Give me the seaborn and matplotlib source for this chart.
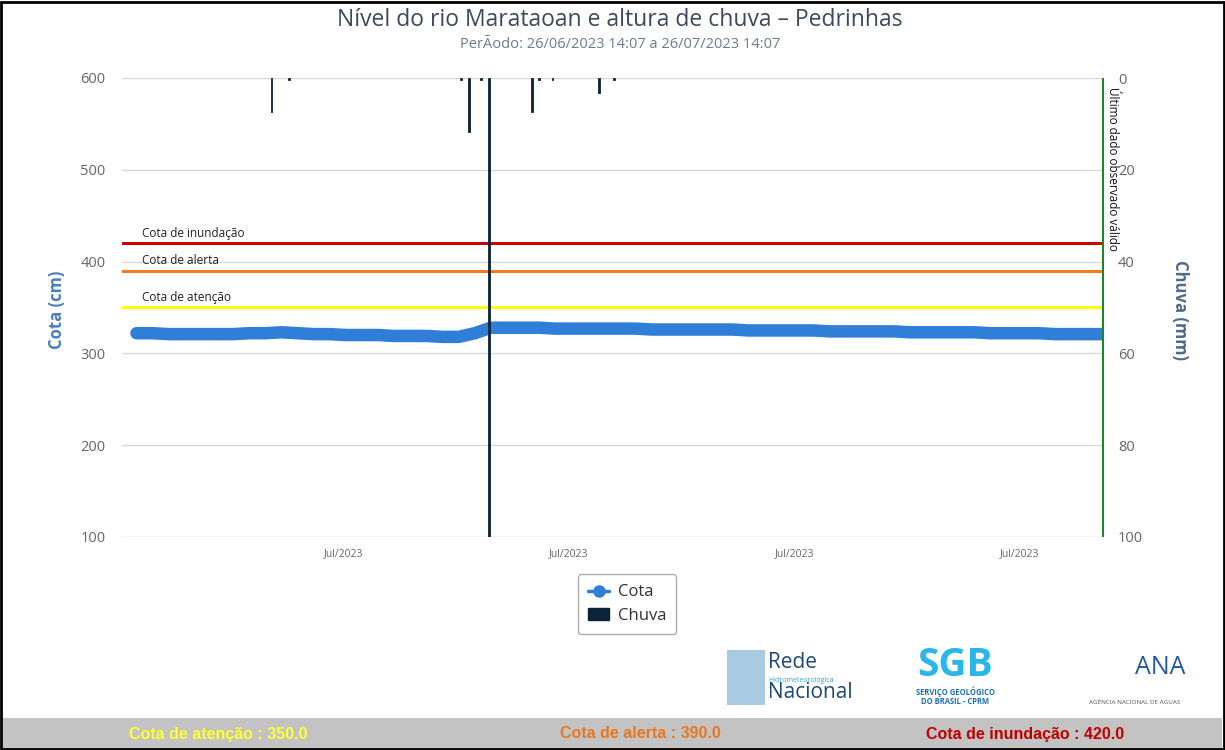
import matplotlib
matplotlib.use("Agg")
import matplotlib.pyplot as plt
import matplotlib.dates as mdates
from matplotlib.patches import Rectangle
from matplotlib.lines import Line2D
from matplotlib.patches import Patch
import seaborn as sns
import pandas as pd
import numpy as np

# ---------------- data ----------------
cota_start = "2023-06-26 14:07"
cota_step_hours = 12
cota_values = [322, 322, 321, 321, 321, 321, 321, 322, 322, 323,
               322, 321, 321, 320, 320, 320, 319, 319, 319, 318,
               318, 322, 328, 328, 328, 328, 327, 327, 327, 327,
               327, 327, 326, 326, 326, 326, 326, 326, 325, 325,
               325, 325, 325, 324, 324, 324, 324, 324, 323, 323,
               323, 323, 323, 322, 322, 322, 322, 321, 321, 321, 321]

chuva_times = ["2023-06-30 18:40", "2023-07-01 08:00", "2023-07-06 16:00",
               "2023-07-06 21:40", "2023-07-07 07:00", "2023-07-07 12:45",
               "2023-07-08 21:00", "2023-07-09 02:00", "2023-07-09 12:00",
               "2023-07-10 22:30", "2023-07-11 10:00"]
chuva_values = [7.4, 0.4, 0.4, 11.8, 0.4, 120.0, 7.4, 0.4, 0.4, 3.3, 0.4]

thresholds = {"Cota de inundação": 420, "Cota de alerta": 390, "Cota de atenção": 350}
threshold_colors = {"Cota de inundação": "#cc0000", "Cota de alerta": "#f47c20", "Cota de atenção": "#ffff00"}
last_valid = "2023-07-26 14:07"

left_ticks = [100, 200, 300, 400, 500, 600]
right_ticks = [0, 20, 40, 60, 80, 100]

# ---------------- figure ----------------
sns.set_theme(style="white")
plt.rcParams['font.family'] = ['Open Sans', 'DejaVu Sans']

W, H = 1225, 750
fig = plt.figure(figsize=(W / 100, H / 100), dpi=100)
ax = fig.add_axes([122 / W, 1 - 537 / H, (1104 - 122) / W, (537 - 78) / H])

times = pd.date_range(cota_start, periods=len(cota_values), freq=f"{cota_step_hours}h")
df = pd.DataFrame({"Data": times, "Cota": cota_values})

ax.set_ylim(100, 600)
ax.set_xlim(pd.Timestamp("2023-06-26 03:20"), pd.Timestamp("2023-07-26 14:50"))

# grid lines
for t in left_ticks:
    ax.axhline(t, color="#d8d8d8", lw=1.0, zorder=0)

# threshold lines
for name, val in thresholds.items():
    ax.axhline(val, color=threshold_colors[name], lw=2.2, zorder=2)
    ax.text(0.02, val + 4, name, transform=ax.get_yaxis_transform(),
            fontsize=8.5, color="#222222", va="bottom", ha="left", zorder=3)

sns.lineplot(data=df, x="Data", y="Cota", ax=ax, color="#2f7ed8", lw=9,
             solid_capstyle="round", zorder=4, legend=False)

# secondary axis for rain
ax2 = ax.twinx()
ax2.set_ylim(100, 0)
ax2.bar(pd.to_datetime(chuva_times), chuva_values, width=0.055, color="#0d233a",
        edgecolor="#0d233a", linewidth=0.6, zorder=5, align="center")
ax2.set_xlim(ax.get_xlim())

# last valid data line
ax2.axvline(pd.Timestamp(last_valid), color="#1a8a1a", lw=2.2, zorder=6)
ax2.text(pd.Timestamp(last_valid) + pd.Timedelta(hours=2.5), 2, "Último dado observado válido",
         rotation=270, fontsize=8.5, color="#111111", va="top", ha="left", zorder=7)

# ticks & labels
ax.set_yticks(left_ticks)
ax2.set_yticks(right_ticks)
ax.xaxis.set_major_locator(mdates.WeekdayLocator(byweekday=mdates.MO))
ax.xaxis.set_major_formatter(mdates.DateFormatter("Jul/%Y"))
ax.tick_params(axis="x", labelsize=7.5, colors="#666666", length=0, pad=8)
ax.tick_params(axis="y", labelsize=10.5, colors="#666666", length=0, pad=12)
ax2.tick_params(axis="y", labelsize=10.5, colors="#666666", length=0, pad=10)
ax.set_xlabel("")
ax.set_ylabel("")
for s in ax.spines.values():
    s.set_visible(False)
for s in ax2.spines.values():
    s.set_visible(False)

fig.text(57 / W, 1 - 310 / H, "Cota (cm)", rotation=90, fontsize=12, color="#4a7ebf",
         ha="center", va="center", fontweight="bold")
fig.text(1180 / W, 1 - 310 / H, "Chuva (mm)", rotation=270, fontsize=12, color="#4f6a88",
         ha="center", va="center", fontweight="bold")

# titles
fig.text(620 / W, 1 - 20 / H, "Nível do rio Marataoan e altura de chuva – Pedrinhas",
         fontsize=16.5, color="#3b4a5c", ha="center", va="center")
fig.text(620 / W, 1 - 44 / H, "PerÃodo: 26/06/2023 14:07 a 26/07/2023 14:07",
         fontsize=10.5, color="#6b7c8f", ha="center", va="center")

# legend
handles = [Line2D([0], [0], color="#2f7ed8", lw=2.5, marker="o", markersize=8),
           Patch(facecolor="#0d233a", edgecolor="#0d233a")]
leg = fig.legend(handles, ["Cota", "Chuva"], loc="upper center",
                 bbox_to_anchor=(627 / W, 1 - 566 / H), frameon=True, fontsize=12,
                 handlelength=1.3, labelcolor="#333333", borderpad=0.6, labelspacing=0.45,
                 handletextpad=0.5, fancybox=True)
leg.get_frame().set_edgecolor("#999999")
leg.get_frame().set_linewidth(1.0)

# logos (as text)
fig.patches.append(Rectangle((727 / W, 1 - 705 / H), 38 / W, 55 / H, transform=fig.transFigure,
                             facecolor="#6fa9cf", edgecolor="none", alpha=0.6))
fig.text(768 / W, 1 - 662 / H, "Rede", fontsize=15, color="#1d4a72", ha="left", va="center")
fig.text(768 / W, 1 - 680 / H, "Hidrometeorológica", fontsize=5, color="#3aa0d8", ha="left", va="center")
fig.text(768 / W, 1 - 693 / H, "Nacional", fontsize=15, color="#1d4a72", ha="left", va="center")

fig.text(955 / W, 1 - 665 / H, "SGB", fontsize=28, color="#29b6e8", ha="center", va="center",
         fontweight="bold")
fig.text(955 / W, 1 - 692 / H, "SERVIÇO GEOLÓGICO", fontsize=5.5, color="#1f6fb5", ha="center",
         va="center", fontweight="bold")
fig.text(955 / W, 1 - 702 / H, "DO BRASIL - CPRM", fontsize=5.5, color="#1f6fb5", ha="center",
         va="center", fontweight="bold")

fig.text(1160 / W, 1 - 667 / H, "ANA", fontsize=18, color="#2356a3", ha="center", va="center")
fig.text(1135 / W, 1 - 703 / H, "AGÊNCIA NACIONAL DE ÁGUAS", fontsize=4.5, color="#555555",
         ha="center", va="center")

# bottom band
fig.patches.append(Rectangle((3 / W, 0), (W - 6) / W, 32 / H, transform=fig.transFigure,
                             facecolor="#c3c3c3", edgecolor="none"))
band_fam = ['Liberation Sans', 'DejaVu Sans']
fig.text(218 / W, 1 - 734 / H, "Cota de atenção : 350.0", fontsize=11.5, color="#ffff33",
         ha="center", va="center", family=band_fam, fontweight="bold")
fig.text(640 / W, 1 - 734 / H, "Cota de alerta : 390.0", fontsize=11.5, color="#e87722",
         ha="center", va="center", family=band_fam, fontweight="bold")
fig.text(1025 / W, 1 - 734 / H, "Cota de inundação : 420.0", fontsize=11.5, color="#c00000",
         ha="center", va="center", family=band_fam, fontweight="bold")

# frame
fig.patches.append(Rectangle((1 / W, 1 / H), (W - 2) / W, (H - 3) / H, transform=fig.transFigure,
                             facecolor="none", edgecolor="black", lw=2))

fig.savefig("out.png", dpi=100)
